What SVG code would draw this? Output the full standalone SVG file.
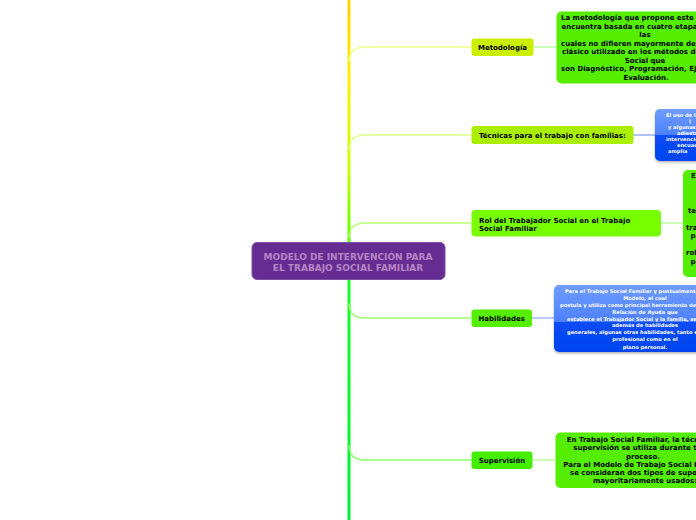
<svg xmlns="http://www.w3.org/2000/svg" width="696" height="520" viewBox="0 0 696 520">
<defs>
<linearGradient id="spine" x1="0" y1="0" x2="0" y2="520" gradientUnits="userSpaceOnUse">
<stop offset="0" stop-color="#ffd400"/>
<stop offset="0.15" stop-color="#ffee00"/>
<stop offset="0.32" stop-color="#ccff00"/>
<stop offset="0.45" stop-color="#66ff00"/>
<stop offset="0.55" stop-color="#11ff22"/>
<stop offset="1" stop-color="#00ee33"/>
</linearGradient>
<linearGradient id="blue1" x1="0" y1="0" x2="0" y2="1">
<stop offset="0" stop-color="#6f9cff"/>
<stop offset="0.5" stop-color="#4d80ff"/>
<stop offset="0.5" stop-color="#0a4cf5"/>
<stop offset="1" stop-color="#0044ee"/>
</linearGradient>
<linearGradient id="blue2" x1="0" y1="0" x2="0" y2="1">
<stop offset="0" stop-color="#6f9cff"/>
<stop offset="0.55" stop-color="#4d80ff"/>
<stop offset="0.55" stop-color="#0a4cf5"/>
<stop offset="1" stop-color="#0044ee"/>
</linearGradient>
<filter id="sh" x="-10%" y="-10%" width="130%" height="130%">
<feDropShadow dx="0" dy="1.5" stdDeviation="1" flood-color="#000" flood-opacity="0.3"/>
</filter>
</defs>
<style>
.t{font-family:"DejaVu Sans",Verdana,sans-serif;font-weight:bold;font-size:7px;fill:#000}
.c{text-anchor:middle}
.w{font-family:"DejaVu Sans",Verdana,sans-serif;font-weight:bold;font-size:5.1px;fill:#fff}
.ctr{font-family:"DejaVu Sans",Verdana,sans-serif;font-weight:bold;font-size:9px;fill:#b684c6;text-anchor:middle}
.br{fill:none;stroke-width:1.3}
.gbox{fill:#55ee00}
</style>
<rect width="696" height="520" fill="#ffffff"/>
<g id="connectors">
<line x1="349" y1="0" x2="349" y2="520" stroke="url(#spine)" stroke-width="3"/>
<path class="br" d="M349,62 C349,52 355,47 365,47 H471" stroke="#eeff88"/>
<path class="br" d="M349,150 C349,140 355,135 365,135 H471" stroke="#ddff88"/>
<path class="br" d="M349,238 C349,228 355,223 365,223 H471" stroke="#bbff77"/>
<path class="br" d="M349,303 C349,313 355,318 365,318 H471" stroke="#99ff66"/>
<path class="br" d="M349,445 C349,455 355,460 365,460 H471" stroke="#88ff66"/>
<line x1="534" y1="47" x2="557" y2="47" stroke="#aaff88" stroke-width="1.2"/>
<line x1="633" y1="135" x2="655" y2="135" stroke="#7799ee" stroke-width="1.2"/>
<line x1="661" y1="223" x2="683" y2="223" stroke="#aaff88" stroke-width="1.2"/>
<line x1="532" y1="318" x2="554" y2="318" stroke="#88aaff" stroke-width="1.2"/>
<line x1="532" y1="460" x2="555" y2="460" stroke="#aaff88" stroke-width="1.2"/>
</g>
<g id="center">
<rect x="252" y="242.5" width="193" height="37" rx="5" fill="#652d91" stroke="#7d4ea3" stroke-width="1"/>
<text class="ctr" x="348" y="259.5">MODELO DE INTERVENCIÓN PARA</text>
<text class="ctr" x="348" y="270.5">EL TRABAJO SOCIAL FAMILIAR</text>
</g>
<g id="metodologia">
<rect x="471.5" y="38.5" width="62" height="17.5" rx="3" fill="#ccee00"/>
<text class="t c" x="502.5" y="49.5">Metodología</text>
</g>
<g id="metodologia-desc">
<rect class="gbox" x="556.5" y="11.5" width="180" height="72" rx="5"/>
<text class="t" x="561" y="20">La metodología que propone este Modelo se</text>
<text class="t" x="561.5" y="28.5">encuentra basada en cuatro etapas,</text>
<text class="t c" x="645" y="37">las</text>
<text class="t" x="561" y="45.5">cuales no difieren mayormente del modelo</text>
<text class="t" x="562" y="54">clásico utilizado en los métodos de Trabajo</text>
<text class="t c" x="645" y="62.5">Social que</text>
<text class="t" x="561" y="71">son Diagnóstico, Programación, Ejecución y</text>
<text class="t c" x="646" y="79.5">Evaluación.</text>
</g>
<g id="tecnicas">
<rect x="471.5" y="126" width="162" height="18" rx="3" fill="#aaee00"/>
<text class="t" x="479" y="137.5">Técnicas para el trabajo con familias:</text>
</g>
<g id="tecnicas-desc">
<rect x="655" y="109" width="90" height="52" rx="5" fill="url(#blue1)" filter="url(#sh)"/>
<text class="w" x="666" y="117">El uso de las técnicas</text>
<text class="w" x="689" y="123">(</text>
<text class="w" x="668" y="129">y algunas</text>
<text class="w" x="677" y="135">adiestramiento</text>
<text class="w" x="666" y="141">intervención</text>
<text class="w" x="677" y="147">encuadre</text>
<text class="w" x="668" y="153">amplia</text>
</g>
<g id="rol">
<rect x="471.5" y="210" width="189.5" height="26.5" rx="4" fill="#77ff00"/>
<text class="t" x="479" y="222.5">Rol del Trabajador Social en el Trabajo</text>
<text class="t" x="479" y="230.5">Social Familiar</text>
</g>
<g id="rol-desc">
<rect class="gbox" x="683" y="170" width="60" height="107" rx="5"/>
<text class="t" x="691" y="177.5">El</text>
<text class="t" x="688" y="212.5">terapeuta</text>
<text class="t" x="686" y="229.5">transformador</text>
<text class="t" x="690.5" y="238">para</text>
<text class="t" x="686" y="255">roles</text>
<text class="t" x="690.5" y="263.5">para</text>
</g>
<g id="habilidades">
<rect x="471.5" y="309.5" width="60.5" height="17.5" rx="3" fill="#55ee00"/>
<text class="t c" x="501.7" y="320.5">Habilidades</text>
</g>
<g id="habilidades-desc">
<rect x="554" y="285" width="182" height="67" rx="5" fill="url(#blue2)" filter="url(#sh)"/>
<text class="w" x="565" y="292.7">Para el Trabajo Social Familiar y puntualmente este</text>
<text class="w c" x="645" y="299.7">Modelo, el cual</text>
<text class="w" x="560" y="306.7">postula y utiliza como principal herramienta de la</text>
<text class="w c" x="645" y="313.7">Relación de Ayuda que</text>
<text class="w" x="567" y="320.5">establece el Trabajador Social y la familia, se requieren</text>
<text class="w c" x="645" y="327.2">además de habilidades</text>
<text class="w" x="567" y="334.3">generales, algunas otras habilidades, tanto en el</text>
<text class="w c" x="645" y="341.3">profesional como en el</text>
<text class="w c" x="645" y="348.5">plano personal.</text>
</g>
<g id="supervision">
<rect x="471.5" y="451.5" width="61" height="17.5" rx="3" fill="#44ee00"/>
<text class="t c" x="502" y="463">Supervisión</text>
</g>
<g id="supervision-desc">
<rect class="gbox" x="555.5" y="432.5" width="180" height="55.5" rx="5"/>
<text class="t" x="566.7" y="442">En Trabajo Social Familiar, la técnica de</text>
<text class="t" x="573.3" y="450">supervisión se utiliza durante todo el</text>
<text class="t c" x="643" y="458.5">proceso.</text>
<text class="t" x="563.3" y="466.5">Para el Modelo de Trabajo Social Familiar</text>
<text class="t" x="570" y="475">se consideran dos tipos de supervisión</text>
<text class="t c" x="645" y="483">mayoritariamente usados:</text>
</g>
</svg>
